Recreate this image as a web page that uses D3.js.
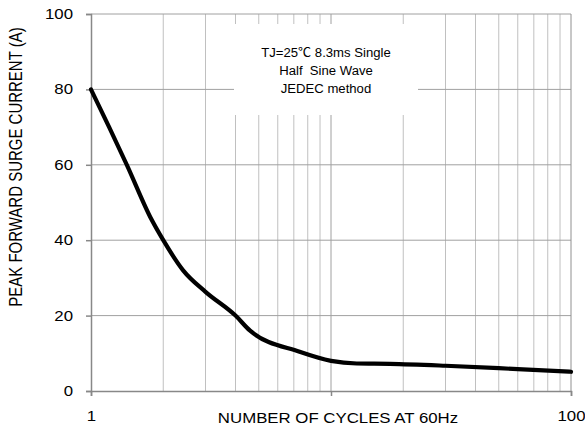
<!DOCTYPE html>
<html>
<head>
<meta charset="utf-8">
<script src="https://cdn.jsdelivr.net/npm/d3@7.9.0/dist/d3.min.js"></script>
<style>
  body { margin: 0; background: #fff; }
  svg text { font-family: "Liberation Sans", Arial, "Noto Sans CJK SC", sans-serif; fill: #000; white-space: pre; }
</style>
</head>
<body>
<svg id="chart" width="585" height="427"></svg>
<script>
// surge current vs number of cycles
const cycles = [1, 1.19, 1.41, 1.79, 2, 2.42, 3, 4, 4.6, 7.4, 10, 12.8, 17.6, 30, 60, 100];
const current = [80, 70, 60, 45.4, 40, 32, 26.3, 20, 16, 10.4, 8, 7.3, 7.2, 6.7, 5.8, 5.1];
const yTicks = [0, 20, 40, 60, 80, 100];
const xTicks = [1, 10, 100];
const noteLines = ['TJ=25\u2103 8.3ms Single', 'Half  Sine Wave', 'JEDEC method'];

const svg = d3.select('#chart');
const plotL = 91, plotR = 571, plotT = 14, plotB = 391;
const wide = 1.2; // the source art has wide lettering

const x = d3.scaleLog().domain([1, 100]).range([plotL, plotR]);
const y = d3.scaleLinear().domain([0, 100]).range([plotB, plotT]);

// stretch horizontal text to the wider look of the original
function stretch(sel, k) {
  sel.each(function () {
    const w = this.getComputedTextLength();
    d3.select(this).attr('textLength', w * k).attr('lengthAdjust', 'spacingAndGlyphs');
  });
}

// minor vertical grid 2..9, 20..90
const minor = [];
for (let d = 1; d <= 10; d *= 10) {
  for (let k = 2; k <= 9; k++) minor.push(k * d);
}

const grid = svg.append('g');
grid.selectAll('line.minor')
  .data(minor)
  .join('line')
  .attr('x1', d => x(d)).attr('x2', d => x(d))
  .attr('y1', plotT).attr('y2', plotB)
  .attr('stroke', '#c0c0c0').attr('stroke-width', 1);

grid.selectAll('line.major')
  .data([10])
  .join('line')
  .attr('x1', d => x(d)).attr('x2', d => x(d))
  .attr('y1', plotT).attr('y2', plotB)
  .attr('stroke', '#a0a0a0').attr('stroke-width', 1);

grid.selectAll('line.h')
  .data(yTicks.filter(d => d > 0))
  .join('line')
  .attr('x1', plotL).attr('x2', plotR)
  .attr('y1', d => y(d)).attr('y2', d => y(d))
  .attr('stroke', '#a0a0a0').attr('stroke-width', 1);

// right border
svg.append('line')
  .attr('x1', plotR).attr('x2', plotR).attr('y1', plotT).attr('y2', plotB)
  .attr('stroke', '#909090');

// note box hides the grid behind it
svg.append('rect')
  .attr('x', 234).attr('y', 24)
  .attr('width', 184).attr('height', 91)
  .attr('fill', '#fff');

const note = svg.append('g');
note.selectAll('text')
  .data(noteLines)
  .join('text')
  .attr('x', 326)
  .attr('y', (d, i) => 57 + i * 18)
  .attr('text-anchor', 'middle')
  .attr('font-size', 12.5)
  .text(d => d)
  .call(stretch, 1.05);

// axes
const yAxis = svg.append('g')
  .attr('transform', `translate(${plotL},0)`)
  .call(d3.axisLeft(y).tickValues(yTicks).tickSize(5).tickPadding(13));
const xAxis = svg.append('g')
  .attr('transform', `translate(0,${plotB})`)
  .call(d3.axisBottom(x).tickValues(xTicks)
    .tickFormat(d => d === 10 ? '' : d3.format('d')(d))
    .tickSize(5).tickPadding(15));

[yAxis, xAxis].forEach(g => {
  g.select('.domain').attr('stroke', '#888').attr('stroke-width', 1.5);
  g.selectAll('.tick line').attr('stroke', '#888').attr('stroke-width', 1.5);
  g.selectAll('.tick text').attr('font-size', 14).attr('fill', '#000')
    .attr('font-family', '"Liberation Sans", Arial, sans-serif')
    .call(stretch, wide);
});

// curve
const line = d3.line()
  .x((d, i) => x(cycles[i]))
  .y(d => y(d))
  .curve(d3.curveMonotoneX);

svg.append('path')
  .datum(current)
  .attr('d', line)
  .attr('fill', 'none')
  .attr('stroke', '#000')
  .attr('stroke-width', 4.2)
  .attr('stroke-linecap', 'round')
  .attr('stroke-linejoin', 'round');

// axis titles
svg.append('text')
  .attr('x', 338).attr('y', 423)
  .attr('text-anchor', 'middle')
  .attr('font-size', 14)
  .text('NUMBER OF CYCLES AT 60Hz')
  .call(stretch, wide);

svg.append('g')
  .attr('transform', `translate(22,167) scale(${wide},1) rotate(-90)`)
  .append('text')
  .attr('text-anchor', 'middle')
  .attr('font-size', 15)
  .text('PEAK FORWARD SURGE CURRENT (A)');
</script>
</body>
</html>
